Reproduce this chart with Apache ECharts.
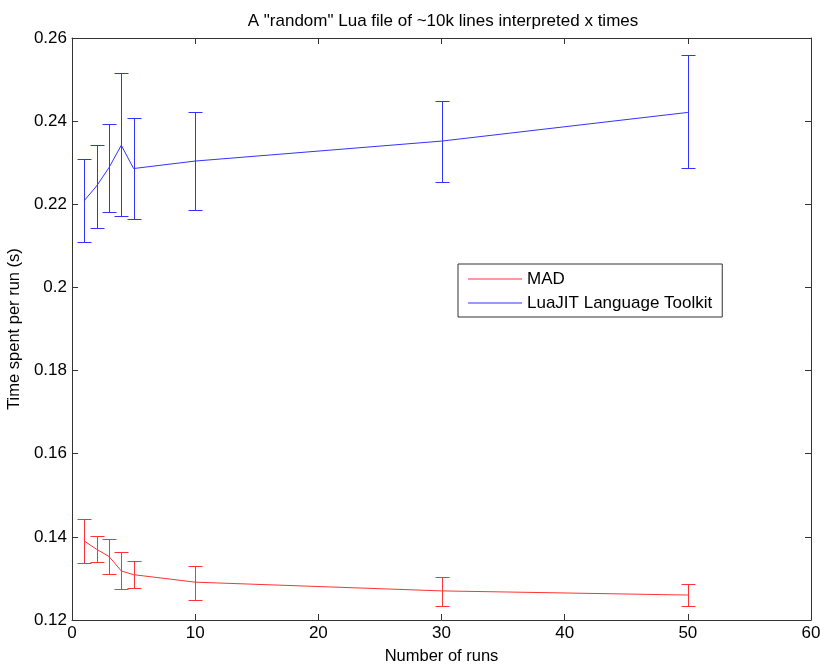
<!DOCTYPE html>
<html>
<head>
<meta charset="utf-8">
<title>A "random" Lua file of ~10k lines interpreted x times</title>
<script src="https://cdn.jsdelivr.net/npm/echarts@6/dist/echarts.min.js"></script>
<style>
  html, body { margin: 0; padding: 0; background: #fff; }
  #chart { width: 820px; height: 665px; }
</style>
</head>
<body>
<div id="chart"></div>
<script>
const runs = [1, 2, 3, 4, 5, 10, 30, 50];

const madMean = [0.1390, 0.1370, 0.1353, 0.1318, 0.1309, 0.1291, 0.1270, 0.1260];
const madLow  = [0.1337, 0.1339, 0.1310, 0.1274, 0.1278, 0.1248, 0.1234, 0.1233];
const madHigh = [0.1444, 0.1403, 0.1396, 0.1363, 0.1342, 0.1330, 0.1303, 0.1286];

const luaMean = [0.2209, 0.2244, 0.2288, 0.2342, 0.2286, 0.2304, 0.2352, 0.2421];
const luaLow  = [0.2109, 0.2142, 0.2181, 0.2171, 0.2164, 0.2187, 0.2253, 0.2287];
const luaHigh = [0.2308, 0.2342, 0.2394, 0.2517, 0.2407, 0.2422, 0.2448, 0.2559];

const font = 'Liberation Sans, Arial, sans-serif';
const red = '#ff3333';
const blue = '#3333ff';

function errorBars(name, color, low, high) {
    return {
        name: name,
        type: 'custom',
        silent: true,
        data: runs.map((x, i) => [x, low[i], high[i]]),
        renderItem: function (params, api) {
            const lo = api.coord([api.value(0), api.value(1)]);
            const hi = api.coord([api.value(0), api.value(2)]);
            // snap to half pixels so the 1px lines stay crisp
            const x = Math.round(lo[0]) + 0.5;
            const y1 = Math.round(lo[1]) + 0.5;
            const y2 = Math.round(hi[1]) + 0.5;
            const w = 7;
            const seg = (ax, ay, bx, by) => ({
                type: 'line',
                shape: { x1: ax, y1: ay, x2: bx, y2: by },
                style: { stroke: color, lineWidth: 1, fill: null }
            });
            return {
                type: 'group',
                children: [
                    seg(x, y1, x, y2),
                    seg(x - w, y1, x + w, y1),
                    seg(x - w, y2, x + w, y2)
                ]
            };
        },
        z: 3
    };
}

const chart = echarts.init(document.getElementById('chart'));

const axisLine = { show: true, onZero: false, lineStyle: { color: '#333', width: 1 } };
const axisTick = { show: true, inside: true, length: 6, lineStyle: { color: '#333' } };

const option = {
    animation: false,
    backgroundColor: '#fff',
    title: {
        text: 'A "random" Lua file of ~10k lines interpreted x times',
        left: 438,
        textAlign: 'center',
        top: 8,
        textStyle: { fontFamily: font, fontSize: 17, fontWeight: 'normal', color: '#000' }
    },
    legend: {
        data: [
            { name: 'MAD', icon: 'rect', itemStyle: { color: red } },
            { name: 'LuaJIT Language Toolkit', icon: 'rect', itemStyle: { color: blue } }
        ],
        orient: 'vertical',
        left: 458,
        top: 264,
        padding: [6, 10, 5, 10],
        itemGap: 6,
        itemWidth: 54,
        itemHeight: 1,
        borderColor: '#333',
        borderWidth: 1,
        backgroundColor: '#fff',
        textStyle: { fontFamily: font, fontSize: 17, color: '#000', lineHeight: 18 }
    },
    grid: { left: 72, right: 9, top: 38, bottom: 45, containLabel: false, outerBoundsMode: 'none' },
    xAxis: [
        {
            type: 'value',
            min: 0, max: 60, interval: 10,
            name: 'Number of runs',
            nameLocation: 'middle',
            nameGap: 28,
            nameTextStyle: { fontFamily: font, fontSize: 16.5, color: '#000' },
            axisLine: axisLine,
            axisTick: axisTick,
            axisLabel: { fontFamily: font, fontSize: 17, color: '#000', margin: 5 },
            splitLine: { show: false }
        },
        {
            type: 'value',
            position: 'top',
            min: 0, max: 60, interval: 10,
            axisLine: axisLine,
            axisTick: axisTick,
            axisLabel: { show: false },
            splitLine: { show: false }
        }
    ],
    yAxis: [
        {
            type: 'value',
            min: 0.12, max: 0.26, interval: 0.02,
            name: 'Time spent per run (s)',
            nameLocation: 'middle',
            nameRotate: 90,
            nameGap: 44,
            nameTextStyle: { fontFamily: font, fontSize: 16.5, color: '#000' },
            axisLine: axisLine,
            axisTick: axisTick,
            axisLabel: { fontFamily: font, fontSize: 17, color: '#000', margin: 5 },
            splitLine: { show: false }
        },
        {
            type: 'value',
            position: 'right',
            min: 0.12, max: 0.26, interval: 0.02,
            axisLine: axisLine,
            axisTick: axisTick,
            axisLabel: { show: false },
            splitLine: { show: false }
        }
    ],
    series: [
        {
            name: 'MAD',
            type: 'line',
            data: runs.map((x, i) => [x, madMean[i]]),
            symbol: 'none',
            lineStyle: { color: red, width: 1 },
            itemStyle: { color: red },
            z: 4
        },
        {
            name: 'LuaJIT Language Toolkit',
            type: 'line',
            data: runs.map((x, i) => [x, luaMean[i]]),
            symbol: 'none',
            lineStyle: { color: blue, width: 1 },
            itemStyle: { color: blue },
            z: 4
        },
        errorBars('MAD err', red, madLow, madHigh),
        errorBars('LuaJIT err', blue, luaLow, luaHigh)
    ]
};

chart.setOption(option);
</script>
</body>
</html>
